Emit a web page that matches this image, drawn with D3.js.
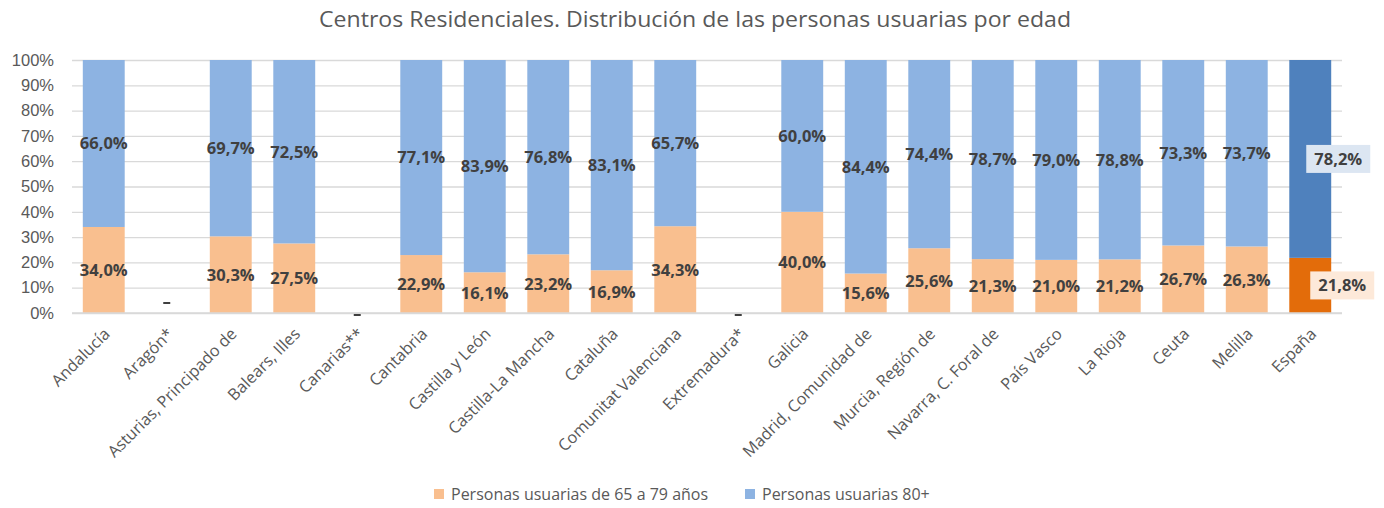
<!DOCTYPE html>
<html lang="es">
<head>
<meta charset="utf-8">
<title>Centros Residenciales</title>
<script src="https://cdn.jsdelivr.net/npm/d3@7"></script>
<style>
  html, body { margin: 0; padding: 0; background: #fff; }
  svg { display: block; font-family: "Open Sans", "Noto Sans", sans-serif; }
</style>
</head>
<body>
<svg id="chart" width="1384" height="508"></svg>
<script>
// Comunidades autónomas (null = sin datos)
const regiones = [
  "Andalucía", "Aragón*", "Asturias, Principado de", "Balears, Illes", "Canarias**",
  "Cantabria", "Castilla y León", "Castilla-La Mancha", "Cataluña", "Comunitat Valenciana",
  "Extremadura*", "Galicia", "Madrid, Comunidad de", "Murcia, Región de", "Navarra, C. Foral de",
  "País Vasco", "La Rioja", "Ceuta", "Melilla", "España"
];
// % de personas usuarias de 65 a 79 años
const edad65a79 = [34.0, null, 30.3, 27.5, null, 22.9, 16.1, 23.2, 16.9, 34.3,
                   null, 40.0, 15.6, 25.6, 21.3, 21.0, 21.2, 26.7, 26.3, 21.8];
// % de personas usuarias de 80 y más años
const edad80mas = [66.0, null, 69.7, 72.5, null, 77.1, 83.9, 76.8, 83.1, 65.7,
                   null, 60.0, 84.4, 74.4, 78.7, 79.0, 78.8, 73.3, 73.7, 78.2];
const ticksY = [0, 10, 20, 30, 40, 50, 60, 70, 80, 90, 100];
const series = ["Personas usuarias de 65 a 79 años", "Personas usuarias 80+"];
const titulo = "Centros Residenciales. Distribución de las personas usuarias por edad";

const colores = { joven: "#f9bf8f", mayor: "#8db3e2", jovenTotal: "#e36c0a", mayorTotal: "#4f81bd" };
const fondoEtiqueta = { joven: "#fde9d9", mayor: "#dce6f2" };
const total = "España";

const svg = d3.select("#chart");
const x = d3.scaleBand().domain(regiones).range([72, 1342]).paddingInner(0.34).paddingOuter(0.17);
const y = d3.scaleLinear().domain([0, 100]).range([313, 60]);
const fmt = v => d3.format(".1f")(v).replace(".", ",") + "%";

// Título
svg.append("text")
  .attr("x", 695).attr("y", 27)
  .attr("text-anchor", "middle")
  .attr("font-size", 22).attr("fill", "#595959")
  .attr("textLength", 752).attr("lengthAdjust", "spacingAndGlyphs")
  .text(titulo);

// Cuadrícula horizontal y eje Y
const yAxis = d3.axisLeft(y).tickValues(ticksY).tickFormat(d => d + "%").tickSize(-(1342 - 72)).tickPadding(18);
const gy = svg.append("g").attr("transform", "translate(72,0)").call(yAxis);
gy.select(".domain").remove();
gy.selectAll(".tick line").attr("stroke", "#d9d9d9").attr("stroke-width", 1.3);
gy.selectAll(".tick text").attr("fill", "#595959").attr("font-size", 16.5);

// Filas de datos
const filas = regiones.map((r, i) => ({ region: r, a: edad65a79[i], b: edad80mas[i] }));

const barras = svg.append("g");
filas.filter(d => d.a !== null).forEach(d => {
  const esTotal = d.region === total;
  barras.append("rect")
    .attr("x", x(d.region)).attr("width", x.bandwidth())
    .attr("y", y(d.a)).attr("height", y(0) - y(d.a))
    .attr("fill", esTotal ? colores.jovenTotal : colores.joven);
  barras.append("rect")
    .attr("x", x(d.region)).attr("width", x.bandwidth())
    .attr("y", y(d.a + d.b)).attr("height", y(d.a) - y(d.a + d.b))
    .attr("fill", esTotal ? colores.mayorTotal : colores.mayor);
});

// Etiquetas de datos
const etiquetas = svg.append("g")
  .attr("font-size", 16.5).attr("font-weight", 700).attr("fill", "#404040")
  .attr("text-anchor", "middle");
filas.filter(d => d.a !== null && d.region !== total).forEach(d => {
  const cx = x(d.region) + x.bandwidth() / 2;
  etiquetas.append("text").attr("x", cx).attr("y", y(d.a / 2)).attr("dy", "0.36em").text(fmt(d.a));
  etiquetas.append("text").attr("x", cx).attr("y", y(d.a + d.b / 2)).attr("dy", "0.36em").text(fmt(d.b));
});

// Etiquetas del total, con recuadro de fondo y desplazadas a la derecha
filas.filter(d => d.region === total).forEach(d => {
  const cx = x(d.region) + x.bandwidth() / 2;
  const items = [
    { v: d.b, cy: y(d.a + d.b / 2), cxl: cx + 28, fondo: fondoEtiqueta.mayor },
    { v: d.a, cy: y(d.a / 2), cxl: cx + 32, fondo: fondoEtiqueta.joven }
  ];
  items.forEach(it => {
    etiquetas.append("rect")
      .attr("x", it.cxl - 32).attr("y", it.cy - 14)
      .attr("width", 64).attr("height", 28)
      .attr("fill", it.fondo);
    etiquetas.append("text").attr("x", it.cxl).attr("y", it.cy).attr("dy", "0.36em").text(fmt(it.v));
  });
});

// Regiones sin datos: guion
filas.filter(d => d.a === null).forEach((d, k) => {
  const cx = x(d.region) + x.bandwidth() / 2;
  etiquetas.append("rect")
    .attr("x", cx - 4).attr("y", k === 0 ? y(0) - 11 : y(0) + 1)
    .attr("width", 7).attr("height", 2).attr("fill", "#404040");
});

// Línea base
svg.append("line").attr("x1", 72).attr("x2", 1342).attr("y1", y(0)).attr("y2", y(0))
  .attr("stroke", "#d9d9d9").attr("stroke-width", 1.3);

// Etiquetas del eje X, giradas
const gx = svg.append("g").attr("font-size", 16.3).attr("fill", "#595959");
regiones.forEach(r => {
  const cx = x(r) + x.bandwidth() / 2;
  gx.append("text")
    .attr("transform", `translate(${cx + 3},${y(0) + 18}) rotate(-45)`)
    .attr("text-anchor", "end").attr("dy", "0.35em")
    .text(r);
});

// Leyenda
const leyenda = svg.append("g").attr("font-size", 16).attr("fill", "#595959");
const posLeyenda = [434, 745];
series.forEach((s, i) => {
  leyenda.append("rect").attr("x", posLeyenda[i]).attr("y", 489).attr("width", 10).attr("height", 10)
    .attr("fill", i === 0 ? colores.joven : colores.mayor);
  leyenda.append("text").attr("x", posLeyenda[i] + 17).attr("y", 494).attr("dy", "0.36em").text(s);
});
</script>
</body>
</html>
